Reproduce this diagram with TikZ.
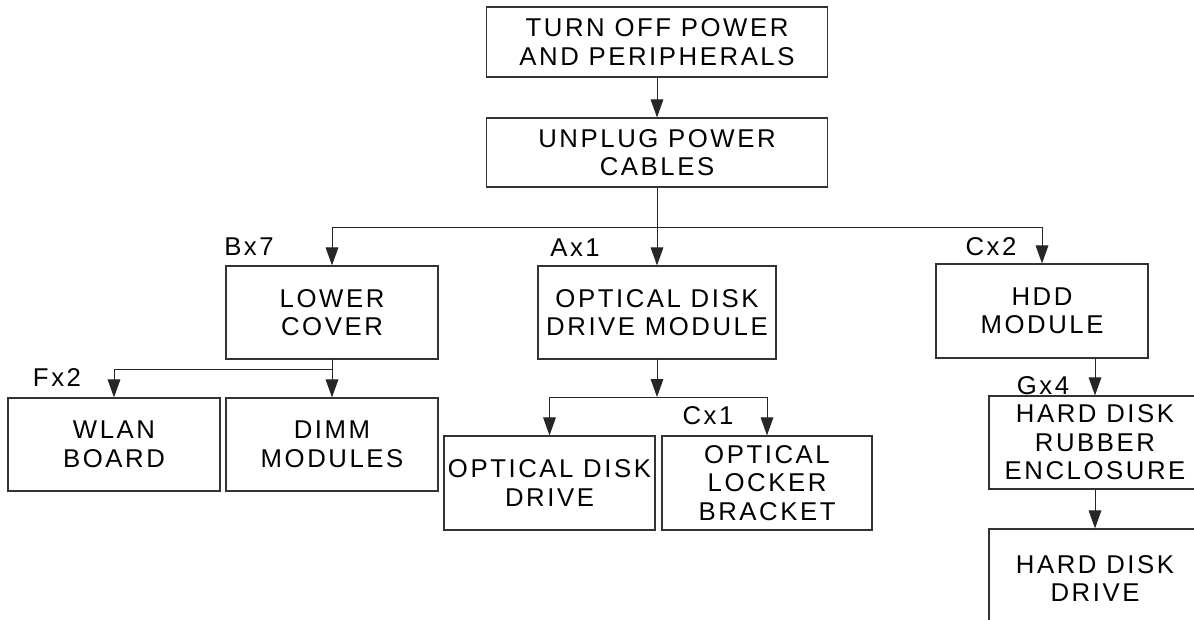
\documentclass[tikz,border=0pt]{standalone}
\usepackage{fontspec}
\setmainfont{Liberation Sans}[LetterSpace=10]
\usetikzlibrary{arrows.meta}
\begin{document}
\begin{tikzpicture}[x=0.75pt,y=-0.75pt,
  txt/.style={font=\fontsize{19.3}{21.4}\selectfont},
  box/.style={txt, draw=black!80, line width=0.9pt, inner sep=0pt, align=center},
  sz/.style 2 args={minimum width=#1*0.75pt, minimum height=#2*0.75pt},
  lbl/.style={txt, inner sep=0pt},
  conn/.style={line width=0.75pt, draw=black!85},
  arr/.style={conn, -{Triangle[length=13.5pt,width=9.5pt]}}]
\useasboundingbox (0,0) rectangle (1194,620);
\clip (0,0) rectangle (1194,620);
% boxes
\node[box, sz={341}{70}] (b1) at (657,42) {TURN OFF POWER\\AND PERIPHERALS};
\node[box, sz={341}{69}] (b2) at (657,152.5) {UNPLUG POWER\\CABLES};
\node[box, sz={212}{93}] (lc) at (332,312.5) {LOWER\\COVER};
\node[box, sz={238}{93}] (oddm) at (657,312.5) {OPTICAL DISK\\DRIVE MODULE};
\node[box, sz={212}{94}] (hdd) at (1042,311) {HDD\\MODULE};
\node[box, sz={212}{93}] (wlan) at (114,444.5) {WLAN\\BOARD};
\node[box, sz={212}{93}] (dimm) at (332,444.5) {DIMM\\MODULES};
\node[box, sz={211}{94}] (odd) at (549.5,483) {OPTICAL DISK\\DRIVE};
\node[box, sz={210}{94}] (olb) at (767,483) {OPTICAL\\LOCKER\\BRACKET};
\node[box, sz={212}{93}] (rub) at (1095,442.5) {HARD DISK\\RUBBER\\ENCLOSURE};
\node[box, sz={212}{99}] (hdrive) at (1095,578.5) {HARD DISK\\DRIVE};
% labels
\node[lbl] (bx7) at (249,247) {Bx7};
\node[lbl] (ax1) at (575,248) {Ax1};
\node[lbl] (cx2) at (991,247) {Cx2};
\node[lbl] (gx4) at (1043,386) {Gx4};
\node[lbl] (fx2) at (57,378) {Fx2};
\node[lbl] (cx1) at (708,416) {Cx1};
% junctions
\coordinate (j1) at (657,227);
\coordinate (j2) at (332,369);
\coordinate (j3) at (657,397);
% connectors
\draw[arr] (b1) -- (b2);
\draw[conn] (b2.south) -- (j1);
\draw[arr] (j1) -| (lc.north);
\draw[arr] (j1) -- (oddm.north);
\draw[arr] (j1) -| (hdd.north);
\draw[conn] (lc.south) -- (j2);
\draw[arr] (j2) -| (wlan.north);
\draw[arr] (j2) -- (dimm.north);
\draw[arr] (oddm.south) -- (j3);
\draw[arr] (j3) -| (odd.north);
\draw[arr] (j3) -| (olb.north);
\draw[arr] (hdd.south -| rub.north) -- (rub.north);
\draw[arr] (rub) -- (hdrive);
\end{tikzpicture}
\end{document}
